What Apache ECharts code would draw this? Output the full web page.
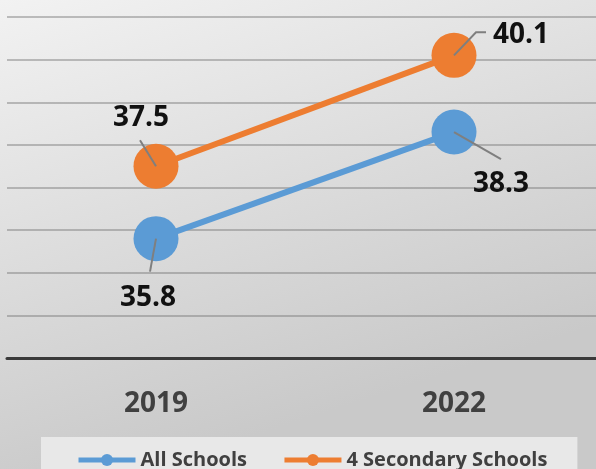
<!DOCTYPE html>
<html>
<head>
<meta charset="utf-8">
<script src="https://cdn.jsdelivr.net/npm/echarts@6/dist/echarts.min.js"></script>
<style>
  html, body { margin: 0; padding: 0; overflow: hidden; }
  /* plot band runs a few pixels past the visible right edge */
  #chart { width: 603px; height: 469px; }
</style>
</head>
<body>
<div id="chart"></div>
<script>
// Survey years on the category axis
const years = ['2019', '2022'];
// Average score per group
const allSchools = [35.8, 38.3];
const secondarySchools = [37.5, 40.1];
const seriesNames = ['All Schools', '4 Secondary Schools'];
// Value axis range (ticks every 1)
const yMin = 33;
const yMax = 41;
const yStep = 1;

const BLUE = '#5B9BD5';
const ORANGE = '#ED7D31';
const FONT = '"Open Sans", "Liberation Sans", sans-serif';

// Callout geometry relative to each marker centre: leader path and label centre (px)
const calloutStyle = [
  // All Schools
  [{ path: [[-6, 33]], label: [-8, 59] }, { path: [[47, 27]], label: [47, 52] }],
  // 4 Secondary Schools
  [{ path: [[-16, -26]], label: [-15, -48] }, { path: [[22, -23], [32, -23]], label: [67, -20] }]
];

const calloutData = [];
[allSchools, secondarySchools].forEach((vals, s) => {
  vals.forEach((v, i) => calloutData.push([i, v, s]));
});

const chart = echarts.init(document.getElementById('chart'), null, { renderer: 'canvas' });

chart.setOption({
  animation: false,
  graphic: [{
    type: 'rect',
    z: -10,
    silent: true,
    shape: { x: 0, y: 0, width: 603, height: 469 },
    style: {
      fill: {
        type: 'linear', x: 0, y: 0, x2: 0.25, y2: 1,
        colorStops: [
          { offset: 0, color: '#f2f2f2' },
          { offset: 1, color: '#c9c9c9' }
        ]
      }
    }
  }],
  grid: { left: 7, right: 0, top: 17, bottom: 111 },
  legend: {
    data: seriesNames,
    left: 41,
    top: 437,
    padding: [13, 30, 12, 35],
    backgroundColor: '#e8e8e8',
    itemWidth: 57,
    itemHeight: 15,
    itemGap: 35,
    lineStyle: { width: 5 },
    textStyle: { fontFamily: FONT, fontWeight: 'bold', fontSize: 20, color: '#404040' }
  },
  xAxis: {
    type: 'category',
    data: years,
    boundaryGap: true,
    axisLine: { lineStyle: { color: '#3a3a3a', width: 3 } },
    axisTick: { show: false },
    axisLabel: { margin: 32, fontFamily: FONT, fontWeight: 'bold', fontSize: 28, color: '#404040' }
  },
  yAxis: {
    type: 'value',
    min: yMin,
    max: yMax,
    interval: yStep,
    axisLine: { show: false },
    axisTick: { show: false },
    axisLabel: { show: false },
    splitLine: { lineStyle: { color: 'rgba(120,120,120,0.45)', width: 2 } }
  },
  series: [
    {
      name: seriesNames[0],
      type: 'line',
      data: allSchools,
      symbol: 'circle',
      symbolSize: 45,
      lineStyle: { color: BLUE, width: 6 },
      itemStyle: { color: BLUE },
      z: 3
    },
    {
      name: seriesNames[1],
      type: 'line',
      data: secondarySchools,
      symbol: 'circle',
      symbolSize: 45,
      lineStyle: { color: ORANGE, width: 6 },
      itemStyle: { color: ORANGE },
      z: 3
    },
    {
      name: 'callouts',
      type: 'custom',
      data: calloutData,
      encode: { x: 0, y: 1 },
      z: 10,
      silent: true,
      renderItem(params, api) {
        const idx = api.value(0);
        const val = api.value(1);
        const s = api.value(2);
        const c = api.coord([idx, val]);
        const st = calloutStyle[s][idx];
        const pts = [c].concat(st.path.map(p => [c[0] + p[0], c[1] + p[1]]));
        return {
          type: 'group',
          children: [
            {
              type: 'polyline',
              shape: { points: pts },
              style: { stroke: '#7f7f7f', lineWidth: 2, fill: null }
            },
            {
              type: 'text',
              style: {
                text: val.toFixed(1),
                x: c[0] + st.label[0],
                y: c[1] + st.label[1],
                align: 'center',
                verticalAlign: 'middle',
                fontFamily: FONT,
                fontWeight: 'bold',
                fontSize: 28,
                fill: '#111111'
              }
            }
          ]
        };
      }
    }
  ]
});
</script>
</body>
</html>
